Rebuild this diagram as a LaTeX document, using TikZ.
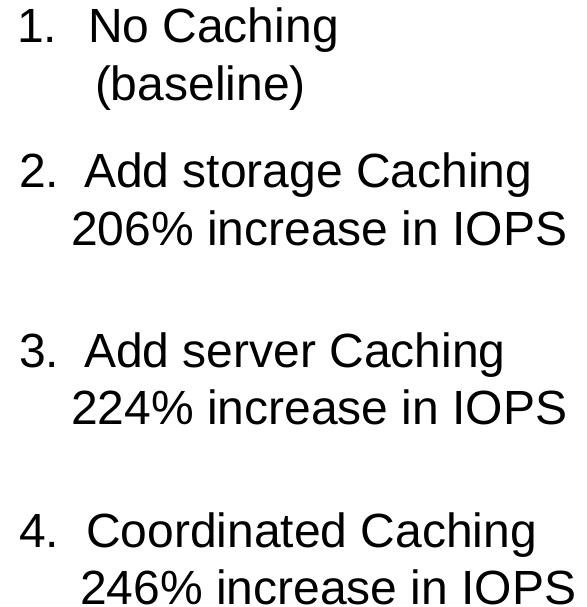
\documentclass[tikz,border=0pt]{standalone}
\usepackage{fontspec}
\setmainfont{Liberation Sans}
\begin{document}
\begin{tikzpicture}[x=1bp,y=-1bp,
  line/.style={anchor=base west,inner sep=0pt,outer sep=0pt,
    font=\fontsize{48bp}{58bp}\selectfont,text=black}]
\useasboundingbox[fill=white] (0,0) rectangle (587,607);
% item 1
\node[line] (n1)  at (17,43)  {1.};
\node[line] (t1)  at (88,43)  {No Caching};
\node[line] (s1)  at (95,101) {(baseline)};
% item 2
\node[line] (n2)  at (19,187) {2.};
\node[line] (t2)  at (84,187) {Add storage Caching};
\node[line] (s2)  at (71,245) {206\% increase in IOPS};
% item 3
\node[line] (n3)  at (19,367) {3.};
\node[line] (t3)  at (84,367) {Add server Caching};
\node[line] (s3)  at (71,424) {224\% increase in IOPS};
% item 4
\node[line] (n4)  at (19,547) {4.};
\node[line] (t4)  at (86,547) {Coordinated Caching};
\node[line] (s4)  at (80,604) {246\% increase in IOPS};
\end{tikzpicture}
\end{document}
